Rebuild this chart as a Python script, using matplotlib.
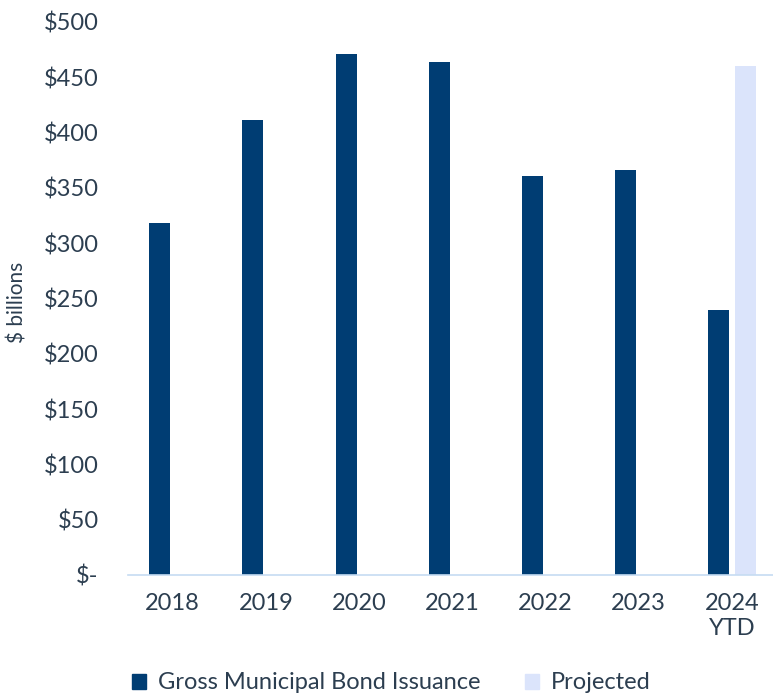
import matplotlib.pyplot as plt
from matplotlib.patches import Patch
import numpy as np

# DATOS

years = ["2018", "2019", "2020", "2021", "2022", "2023", "2024\nYTD"]
issuance = [318, 411, 471, 464, 361, 366, 240]
projected = [0, 0, 0, 0, 0, 0, 460]
y_ticks = [0, 50, 100, 150, 200, 250, 300, 350, 400, 450, 500]
y_labels = ["$-", "$50", "$100", "$150", "$200", "$250", "$300", "$350", "$400", "$450", "$500"]

DARK = "#003d73"
LIGHT = "#dbe4fb"
TEXT = "#2c3e50"

plt.rcParams["font.family"] = ["Lato", "DejaVu Sans"]

fig = plt.figure(figsize=(7.73, 6.94), dpi=100)
ax = fig.add_axes([0.1656, 0.1715, 0.8344, 0.7968])

x = np.arange(len(years))
w = 0.225
ax.bar(x - 0.14, issuance, width=w, color=DARK, zorder=2)
ax.bar(x + 0.145, projected, width=w, color=LIGHT, zorder=2)

ax.set_ylim(0, 500)
ax.set_xlim(-0.48, 6.44)
ax.set_yticks(y_ticks)
ax.set_yticklabels(y_labels)
ax.set_xticks(x)
ax.set_xticklabels(years, linespacing=1.25)
ax.tick_params(axis="y", length=0, pad=21, labelsize=17, labelcolor=TEXT)
ax.tick_params(axis="x", length=0, pad=13, labelsize=17, labelcolor=TEXT)

for s in ["top", "right", "left"]:
    ax.spines[s].set_visible(False)
ax.spines["bottom"].set_color("#c6dcf2")
ax.spines["bottom"].set_linewidth(1.2)

fig.text(0.023, 0.565, "$ billions", rotation=90, fontsize=15, color=TEXT,
         ha="center", va="center")

handles = [Patch(color=DARK, label="Gross Municipal Bond Issuance"),
           Patch(color=LIGHT, label="Projected")]
fig.legend(handles=handles, loc="center left", bbox_to_anchor=(0.158, 0.016),
           ncol=2, frameon=False, fontsize=17, labelcolor=TEXT,
           handlelength=0.6, handleheight=0.6, handletextpad=0.5,
           columnspacing=1.9, borderaxespad=0)

plt.savefig("out.png", dpi=100)
